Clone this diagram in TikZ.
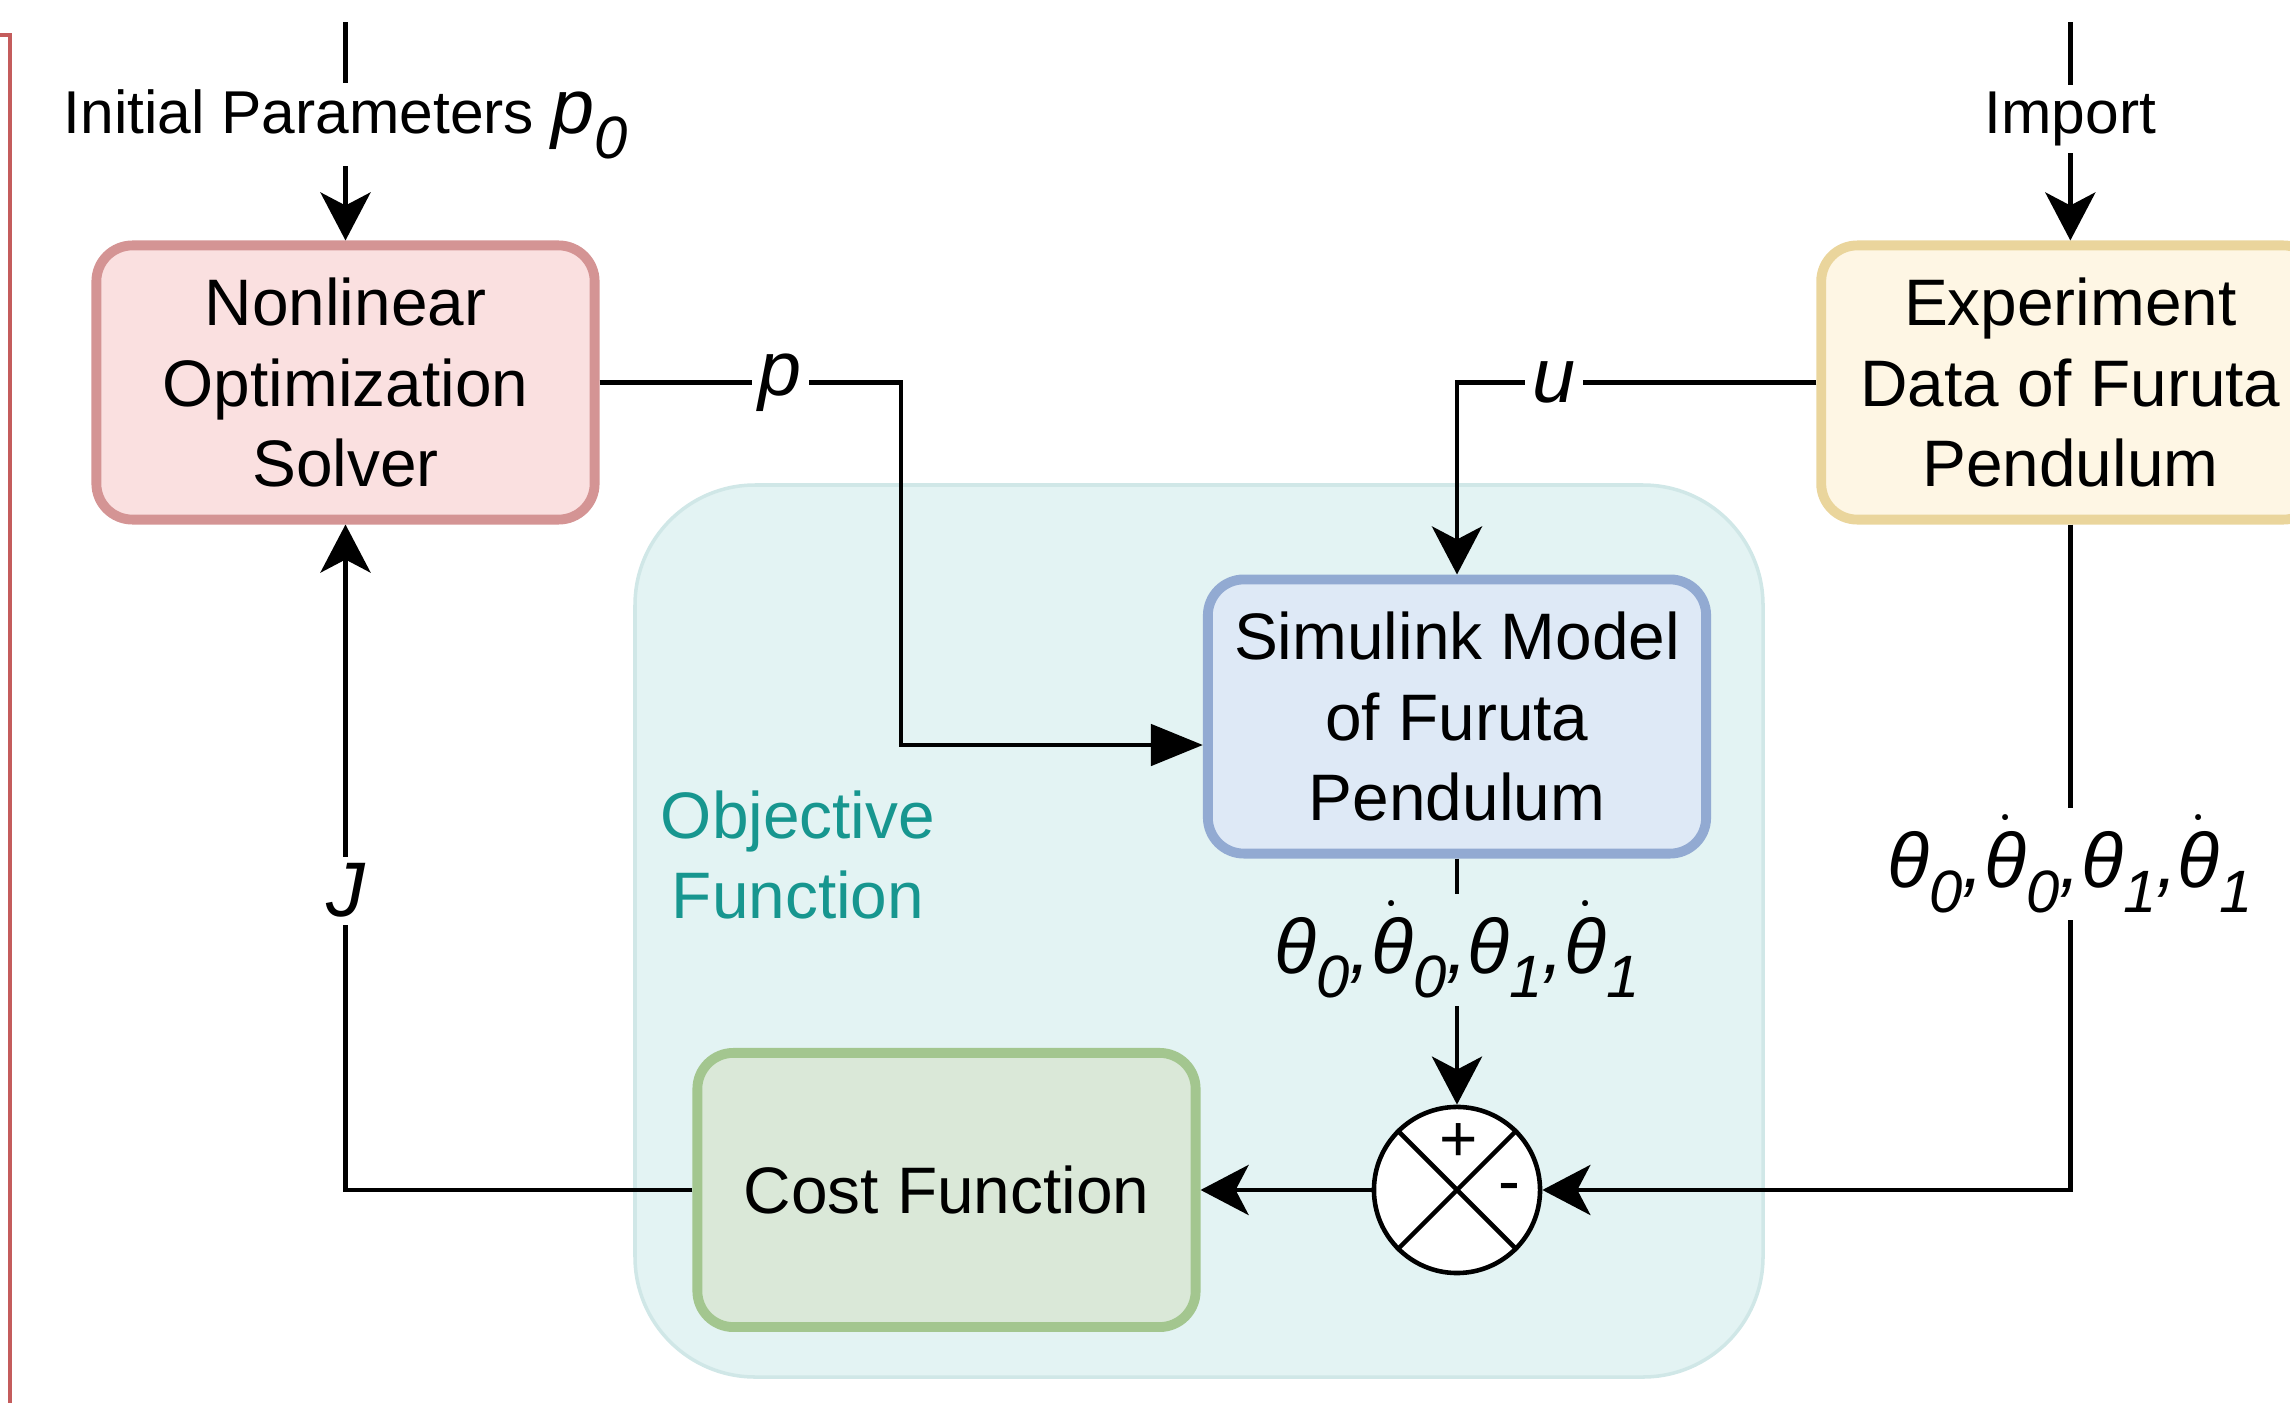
\documentclass[tikz,border=0pt]{standalone}
\usepackage{fontspec}
\setmainfont{Liberation Sans}
\usetikzlibrary{positioning,arrows.meta,calc}
\definecolor{SolverFill}{RGB}{250,224,224}
\definecolor{SolverLine}{RGB}{212,148,148}
\definecolor{DataFill}{RGB}{254,246,228}
\definecolor{DataLine}{RGB}{234,213,156}
\definecolor{ModelFill}{RGB}{222,233,246}
\definecolor{ModelLine}{RGB}{146,170,210}
\definecolor{CostFill}{RGB}{218,232,216}
\definecolor{CostLine}{RGB}{163,198,143}
\definecolor{ObjFill}{RGB}{227,243,243}
\definecolor{ObjLine}{RGB}{208,231,231}
\definecolor{ObjText}{RGB}{23,150,143}
\definecolor{FrameRed}{RGB}{196,92,92}
\newcommand{\sig}[1]{\raisebox{-0.32em}{\fontsize{17}{17}\selectfont\itshape #1}}
\newcommand{\thv}[1]{\textit{θ}\sig{#1}}
\newcommand{\thdv}[1]{$\dot{\hbox{\itshape θ}}$\sig{#1}}
\tikzset{
  blk/.style={
    draw,
    line width=2.8pt,
    rounded corners=0.36cm,
    align=center,
    font=\fontsize{18.7}{22.8}\selectfont,
    inner sep=0pt,
    minimum width=4.98cm,
    minimum height=2.74cm
  },
  blk solver/.style={blk, draw=SolverLine, fill=SolverFill},
  blk data/.style={blk, draw=DataLine, fill=DataFill},
  blk model/.style={blk, draw=ModelLine, fill=ModelFill},
  blk cost/.style={blk, draw=CostLine, fill=CostFill},
  obj group/.style={draw=ObjLine, fill=ObjFill, line width=1pt, rounded corners=1.2cm},
  obj label/.style={font=\fontsize{18.7}{22.8}\selectfont, text=ObjText, align=center},
  sum/.style={circle, draw, fill=white, line width=1.3pt, minimum size=1.66cm, inner sep=0pt},
  sum line/.style={line width=1.3pt},
  sign/.style={font=\fontsize{18.7}{20}\selectfont, inner sep=0pt},
  flow/.style={-{Stealth[length=4.8mm,width=5mm,inset=1.3mm]}, line width=1.4pt},
  flow block/.style={-{Triangle[length=5.2mm,width=4.1mm]}, line width=1.4pt},
  lbl/.style={fill=white, inner sep=2pt, font=\fontsize{22}{26}\selectfont\itshape},
  lbl obj/.style={lbl, fill=ObjFill},
  red frame/.style={draw=FrameRed, line width=1.2pt}
}
\begin{document}
\begin{tikzpicture}[x=0.01cm, y=-0.01cm]
\useasboundingbox (0,0) rectangle (2290,1403);
% objective function group
\draw[obj group] (635,485) rectangle (1763,1377);
\node[obj label] (objtxt) at (798,855) {Objective\\Function};
% blocks
\node[blk solver] (solver) at (345.5,382.5) {Nonlinear\\Optimization\\Solver};
\node[blk data, right=12.16cm of solver] (data) {Experiment\\Data of Furuta\\Pendulum};
\node[blk model] (model) at (1457,716.5) {Simulink Model\\of Furuta\\Pendulum};
\node[sum, below=2.46cm of model] (sum) {};
\node[blk cost, left=1.71cm of sum] (cost) {Cost Function};
\draw[sum line] (sum.north west) -- (sum.south east) (sum.north east) -- (sum.south west);
\node[sign] (plus) at ($(sum.center)+(2,-47)$) {+};
\node[sign] (minus) at ($(sum.center)+(52,3)$) {-};
% inputs from the top
\coordinate (inittop) at (solver.north |- 0,22);
\coordinate (importtop) at (data.north |- 0,22);
\draw[flow] (inittop) -- node[lbl, pos=0.47] (initlbl) {\upshape\fontsize{17.2}{20}\selectfont Initial Parameters \itshape\fontsize{22}{26}\selectfont p\sig{0}} (solver.north);
\draw[flow] (importtop) -- node[lbl, pos=0.445, font=\fontsize{17.2}{20}\selectfont] (implbl) {Import} (data.north);
% signals
\coordinate (pbend) at (901,745);
\draw[flow block] (solver.east) -- node[lbl, pos=0.6] (plbl) {p} (solver.east -| pbend) -- (pbend) -- (model.west |- pbend);
\draw[flow] (data.west) -- node[lbl, pos=0.73] (ulbl) {u} (data.west -| model.north) -- (model.north);
\draw[flow] (model.south) -- node[lbl obj, pos=0.37] (simlbl) {\thv{0},\thdv{0},\thv{1},\thdv{1}} (sum.north);
\draw[flow] (data.south) -- node[lbl, pos=0.51] (explbl) {\thv{0},\thdv{0},\thv{1},\thdv{1}} (data.south |- sum.east) -- (sum.east);
\draw[flow] (sum.west) -- (cost.east);
\draw[flow] (cost.west) -- (cost.west -| solver.south) -- node[lbl, pos=0.45] (jlbl) {J} (solver.south);
% outer frame edge
\draw[red frame] (-20,35) -- (10,35) -- (10,1450);
\end{tikzpicture}
\end{document}
